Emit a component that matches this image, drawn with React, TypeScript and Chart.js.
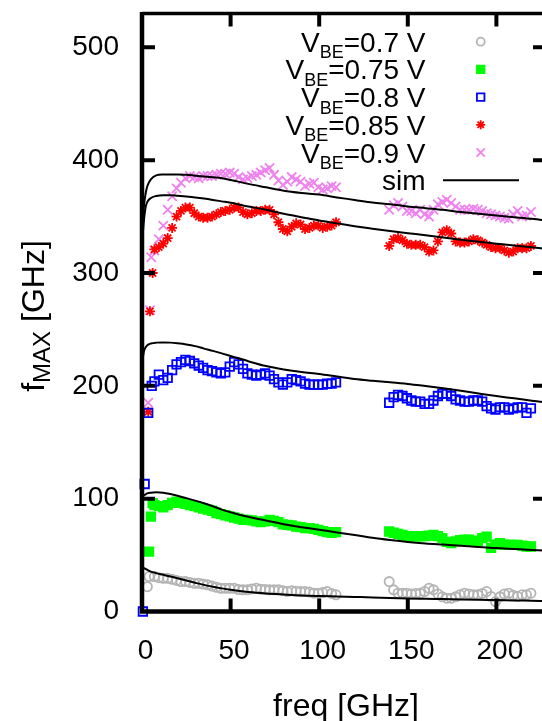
import React, { useEffect, useRef } from "react";
import { Chart, registerables } from "chart.js";

Chart.register(...registerables);

const FONT = "'Liberation Sans', Arial, Helvetica, sans-serif";

// x-axis frequencies (GHz)
const freqBand1 = [7, 9.5, 12, 14.5, 17, 19.5, 22, 24.5, 27, 29.5, 32, 34.5, 37, 39.5, 42, 44.5, 47, 49.5, 52, 54.5, 57, 59.5, 62, 64.5, 67, 69.5, 72, 74.5, 77, 79.5, 82, 84.5, 87, 89.5, 92, 94.5, 97, 99.5, 102, 104.5, 107, 109.5];
const freqBand2 = [139.5, 142, 144.5, 147, 149.5, 152, 154.5, 157, 159.5, 162, 164.5, 167, 169.5, 172, 174.5, 177, 179.5, 182, 184.5, 187, 189.5, 192, 194.5, 197, 199.5, 202, 204.5, 207, 209.5, 212, 214.5, 217, 219.5];
const simFreq = [0, 1, 2, 3, 5, 8, 12, 16, 20, 25, 30, 35, 40, 45, 50, 60, 70, 80, 90, 100, 110, 120, 130, 140, 150, 160, 170, 180, 190, 200, 210, 220, 230];

// VBE = 0.7 V
const grayEarlyF = [3, 4];
const grayEarlyV = [22, 31];
const grayBand1 = [31, 30, 29.4, 29.4, 28.5, 27.5, 26.5, 26.5, 25.8, 25, 25, 24.3, 23.6, 22.5, 21.5, 20.6, 20.6, 20.6, 20.6, 19.5, 19.2, 19.2, 20, 20.6, 19.8, 19.5, 19.2, 19.2, 19.2, 18.5, 17.7, 18.4, 18, 17.7, 17.7, 17.2, 16.2, 16.2, 16.8, 17.7, 16, 14.8];
const grayBand2 = [26.5, 19.2, 16.2, 16.2, 16.2, 15.5, 16, 16.2, 17.7, 20.6, 19.2, 15.5, 13, 11.8, 11.8, 13, 14.8, 16.2, 15.5, 14.8, 14.8, 16, 17.7, 13.3, 8.8, 13, 15.5, 16.2, 14.5, 13.3, 14.8, 14.8, 16.2];

// VBE = 0.75 V
const greenEarlyF = [4, 5, 6];
const greenEarlyV = [53, 84, 96];
const greenBand1 = [94.3, 93.3, 92.3, 94.3, 96.3, 97.3, 96.3, 95.3, 94.3, 93.3, 92.3, 91.3, 90.3, 89.3, 87.3, 86.3, 85.3, 84.3, 83.3, 82.3, 81.3, 81.3, 80.8, 79.8, 79.3, 79.8, 81.3, 80.3, 79.3, 77.3, 76.8, 76.3, 75.3, 74.8, 73.8, 73.8, 73.3, 72.3, 71.3, 70.3, 69.8, 70.3];
const greenBand2 = [70.9, 69.8, 68.8, 68, 66.8, 66.5, 66.5, 66.5, 66.8, 67.3, 68, 66.8, 65.1, 61.8, 60.6, 62.1, 63.3, 63.6, 63.6, 62.8, 62.3, 65.1, 66.3, 56.3, 59.3, 60.6, 59.3, 59.1, 59.1, 59.1, 58.3, 57.6, 57.6];

// VBE = 0.8 V
const blueEarlyF = [0.5, 1.5, 3.5, 5.5];
const blueEarlyV = [0, 113, 176, 200];
const blueBand1 = [204, 210, 205, 207, 214, 219, 221, 223, 222, 220, 218, 216, 214, 213, 212, 211, 212, 217, 221, 219, 215, 211, 210, 209, 210, 211, 209, 206, 203, 201, 203, 206, 205, 204, 202, 201, 201, 201, 201, 202, 202, 203];
const blueBand2 = [185, 190, 192, 191, 189, 187, 186, 186, 184, 184, 187, 191, 193, 193, 191, 188, 187, 186, 186, 187, 187, 186, 182, 180, 179, 181, 181, 179, 180, 181, 181, 176, 180];

// VBE = 0.85 V
const redEarlyF = [3.5, 4.5, 6];
const redEarlyV = [177, 266, 300];
const redBand1 = [321, 323, 326, 331, 340, 350, 355, 358, 358, 353, 350, 349, 349, 350, 352, 354, 355, 356, 358, 358, 354, 352, 353, 355, 355, 356, 356, 352, 345, 339, 337, 341, 344, 343, 339, 340, 342, 342, 340, 341, 342, 345];
const redBand2 = [324, 330, 331, 329, 326, 325, 325, 325, 323, 319, 320, 328, 336, 338, 335, 328, 327, 327, 328, 330, 329, 327, 325, 323, 322, 322, 320, 318, 319, 322, 322, 322, 324];

// VBE = 0.9 V
const pinkEarlyF = [3.5, 4.5, 5.2];
const pinkEarlyV = [185, 267, 314];
const pinkBand1 = [320, 330, 342, 356, 368, 375, 380, 384, 386, 385, 384, 386, 386, 386, 387, 388, 388, 389, 388, 385, 383, 384, 386, 387, 389, 391, 393, 387, 382, 378, 381, 385, 383, 381, 377, 379, 380, 376, 374, 375, 377, 376];
const pinkBand2 = [356, 360, 362, 359, 355, 355, 353, 356, 352, 350, 356, 361, 363, 365, 362, 359, 356, 356, 356, 357, 356, 355, 353, 352, 351, 350, 349, 348, 352, 355, 350, 351, 354];

// simulations
const sim07 = [40, 38.5, 37.8, 36.8, 35.3, 34, 32.5, 31, 29.5, 27.5, 25.5, 23.6, 22, 20.5, 19.2, 17.2, 15.9, 15, 14.2, 13.7, 13.3, 12.9, 12.5, 12, 11.6, 11.3, 11, 10.7, 10.4, 10.1, 9.8, 9.5, 9.2];
const sim075 = [101.3, 102.8, 103.8, 104.7, 105.3, 105.6, 105.3, 104.1, 102.6, 100.5, 98.3, 95.9, 93.3, 90.3, 88, 83.9, 80.6, 77.4, 74.7, 72.5, 70, 67.8, 65.3, 63.3, 61.6, 60.3, 59.3, 58.3, 57.1, 56.3, 55.4, 54.5, 53.8];
const sim08 = [219, 230, 234, 236, 237.5, 238.3, 238.5, 238.3, 237.7, 236.7, 235.2, 233, 231, 228.8, 226.5, 221.8, 217.5, 214.5, 212.2, 210.5, 208.2, 206, 204.5, 203.2, 201.7, 199.8, 197.8, 195.6, 193.2, 190.9, 188.9, 186.8, 185];
const sim085 = [325, 345, 358, 363, 366.5, 368.3, 369, 369, 368.5, 367.8, 367, 366, 364.8, 363.5, 362.2, 359, 356, 352.5, 349.5, 346.5, 344, 341.5, 339.3, 337.2, 335.3, 333.5, 331.5, 329.5, 327.7, 326, 324.3, 322.8, 321.3];
const sim09 = [335, 358, 370, 377, 383, 386.5, 387.3, 387.4, 387.3, 387, 386.3, 385.6, 384.8, 384, 382.5, 379, 376, 373, 371, 369.5, 367, 364.8, 362.5, 361, 359, 357.5, 356, 354, 352.5, 351, 349.5, 348, 346];

const xTicks = [0, 50, 100, 150, 200];
const yTicks = [0, 100, 200, 300, 400, 500];

const legendLabels = ["0.7", "0.75", "0.8", "0.85", "0.9"];

function pts(f: number[], v: number[]) {
  return f.map((x, i) => ({ x, y: v[i] }));
}

const series = [
  { label: legendLabels[0], f: [...grayEarlyF, ...freqBand1, ...freqBand2], v: [...grayEarlyV, ...grayBand1, ...grayBand2], style: "circle", color: "#b4b4b4", filled: false, radius: 4.6, legendRadius: 4 },
  { label: legendLabels[1], f: [...greenEarlyF, ...freqBand1, ...freqBand2], v: [...greenEarlyV, ...greenBand1, ...greenBand2], style: "rect", color: "#00ff00", filled: true, radius: 6, legendRadius: 5.3 },
  { label: legendLabels[2], f: [...blueEarlyF, ...freqBand1, ...freqBand2], v: [...blueEarlyV, ...blueBand1, ...blueBand2], style: "rect", color: "#0000ff", filled: false, radius: 6, legendRadius: 5.3 },
  { label: legendLabels[3], f: [...redEarlyF, ...freqBand1, ...freqBand2], v: [...redEarlyV, ...redBand1, ...redBand2], style: "star", color: "#ff0000", filled: false, radius: 5, legendRadius: 4.5 },
  { label: legendLabels[4], f: [...pinkEarlyF, ...freqBand1, ...freqBand2], v: [...pinkEarlyV, ...pinkBand1, ...pinkBand2], style: "crossRot", color: "#ee82ee", filled: false, radius: 6.5, legendRadius: 5.8 },
];

const sims = [sim07, sim075, sim08, sim085, sim09];

function drawMarker(ctx: CanvasRenderingContext2D, style: string, x: number, y: number, r: number, color: string, filled: boolean) {
  ctx.save();
  ctx.strokeStyle = color;
  ctx.fillStyle = color;
  ctx.lineWidth = 1.8;
  ctx.beginPath();
  if (style === "circle") {
    ctx.arc(x, y, r, 0, Math.PI * 2);
    if (filled) ctx.fill();
    ctx.stroke();
  } else if (style === "rect") {
    const s = Math.SQRT1_2 * r;
    ctx.rect(x - s, y - s, 2 * s, 2 * s);
    if (filled) ctx.fill();
    ctx.stroke();
  } else if (style === "star") {
    ctx.moveTo(x - r, y); ctx.lineTo(x + r, y);
    ctx.moveTo(x, y - r); ctx.lineTo(x, y + r);
    const d = Math.SQRT1_2 * r;
    ctx.moveTo(x - d, y - d); ctx.lineTo(x + d, y + d);
    ctx.moveTo(x - d, y + d); ctx.lineTo(x + d, y - d);
    ctx.stroke();
  } else if (style === "crossRot") {
    const d = Math.SQRT1_2 * r;
    ctx.moveTo(x - d, y - d); ctx.lineTo(x + d, y + d);
    ctx.moveTo(x - d, y + d); ctx.lineTo(x + d, y - d);
    ctx.stroke();
  }
  ctx.restore();
}

const framePlugin = {
  id: "frame",
  afterDatasetsDraw(chart: any) {
    const { ctx, chartArea } = chart;
    const { left, right, top, bottom } = chartArea;
    const xs = chart.scales.x;
    const ys = chart.scales.y;
    ctx.save();
    ctx.strokeStyle = "#000";
    ctx.lineCap = "butt";
    ctx.lineWidth = 3.5;
    ctx.beginPath();
    ctx.moveTo(left, top); ctx.lineTo(right, top); ctx.lineTo(right, bottom);
    ctx.stroke();
    ctx.lineWidth = 4.5;
    ctx.beginPath();
    ctx.moveTo(left, top - 1.5); ctx.lineTo(left, bottom); ctx.lineTo(right, bottom);
    ctx.stroke();
    const tl = 13;
    ctx.lineWidth = 4;
    ctx.beginPath();
    xs.ticks.forEach((t: any) => {
      if (t.value === 0) return;
      const px = xs.getPixelForValue(t.value);
      ctx.moveTo(px, bottom); ctx.lineTo(px, bottom - tl);
      ctx.moveTo(px, top); ctx.lineTo(px, top + tl);
    });
    ys.ticks.forEach((t: any) => {
      if (t.value === 0) return;
      const py = ys.getPixelForValue(t.value);
      ctx.moveTo(left, py); ctx.lineTo(left + tl, py);
      ctx.moveTo(right, py); ctx.lineTo(right - tl, py);
    });
    ctx.stroke();
    ctx.restore();
  },
  afterDraw(chart: any) {
    const { ctx } = chart;
    ctx.save();
    ctx.fillStyle = "#000";
    ctx.textBaseline = "alphabetic";
    const rightX = 425.5;
    const symX = 480.7;
    const row0 = 41.7;
    const step = 27.7;
    series.forEach((s, i) => {
      const ry = row0 + i * step;
      ctx.font = `28px ${FONT}`;
      const wV = ctx.measureText("V").width;
      const rest = `=${s.label} V`;
      const wRest = ctx.measureText(rest).width;
      ctx.font = `18px ${FONT}`;
      const wSub = ctx.measureText("BE").width;
      const start = rightX - (wV + wSub + wRest);
      ctx.textAlign = "left";
      ctx.font = `28px ${FONT}`;
      ctx.fillText("V", start, ry + 10);
      ctx.font = `18px ${FONT}`;
      ctx.fillText("BE", start + wV, ry + 16.5);
      ctx.font = `28px ${FONT}`;
      ctx.fillText(rest, start + wV + wSub, ry + 10);
      drawMarker(ctx, s.style, symX, ry, s.legendRadius, s.color, s.filled);
    });
    const simY = row0 + 5 * step;
    ctx.font = `28px ${FONT}`;
    ctx.textAlign = "right";
    ctx.fillText("sim", rightX, simY + 10);
    ctx.strokeStyle = "#000";
    ctx.lineWidth = 2;
    ctx.beginPath();
    ctx.moveTo(443, simY); ctx.lineTo(519, simY);
    ctx.stroke();

    ctx.font = `32px ${FONT}`;
    ctx.textAlign = "center";
    ctx.fillText("freq [GHz]", 346, 716);

    ctx.translate(43.5, 316);
    ctx.rotate(-Math.PI / 2);
    ctx.textAlign = "left";
    ctx.font = `32px ${FONT}`;
    const w1 = ctx.measureText("f").width;
    const w3 = ctx.measureText(" [GHz]").width;
    ctx.font = `24px ${FONT}`;
    const w2 = ctx.measureText("MAX").width;
    const st = -(w1 + w2 + w3) / 2;
    ctx.font = `32px ${FONT}`;
    ctx.fillText("f", st, 0);
    ctx.font = `24px ${FONT}`;
    ctx.fillText("MAX", st + w1, 6);
    ctx.font = `32px ${FONT}`;
    ctx.fillText(" [GHz]", st + w1 + w2, 0);
    ctx.restore();
  },
};

export default function App() {
  const ref = useRef<HTMLCanvasElement | null>(null);

  useEffect(() => {
    if (!ref.current) return;
    const simDatasets = sims.map((v) => ({
      type: "line" as const,
      data: pts(simFreq, v),
      borderColor: "#000",
      borderWidth: 2,
      pointRadius: 0,
      fill: false,
      showLine: true,
      cubicInterpolationMode: "monotone" as const,
      clip: false as any,
    }));
    const measDatasets = series.map((s) => ({
      type: "scatter" as const,
      data: pts(s.f, s.v),
      pointStyle: s.style as any,
      pointRadius: s.radius,
      pointBorderWidth: 1.8,
      pointBorderColor: s.color,
      pointBackgroundColor: s.filled ? s.color : "rgba(0,0,0,0)",
      borderColor: s.color,
      backgroundColor: s.filled ? s.color : "rgba(0,0,0,0)",
      showLine: false,
      clip: false as any,
    }));
    const chart = new Chart(ref.current, {
      type: "scatter",
      data: { datasets: [...simDatasets, ...measDatasets] as any },
      options: {
        animation: false,
        responsive: false,
        devicePixelRatio: 1,
        events: [],
        layout: { padding: { left: 0, top: 13.5, right: 14, bottom: 0 } },
        plugins: { legend: { display: false }, tooltip: { enabled: false } },
        scales: {
          x: {
            type: "linear",
            min: 0,
            max: 228,
            afterFit: (s: any) => { s.height = 109.5; s.paddingLeft = 0; s.paddingRight = 0; },
            afterBuildTicks: (s: any) => { s.ticks = xTicks.map((value) => ({ value })); },
            grid: { display: false, drawTicks: false, tickLength: 0 },
            border: { display: false },
            ticks: { padding: 23, labelOffset: 3.5, color: "#000", font: { family: FONT, size: 28 }, maxRotation: 0, autoSkip: false },
          },
          y: {
            type: "linear",
            min: 0,
            max: 530,
            afterFit: (s: any) => { s.width = 142; s.paddingTop = 0; s.paddingBottom = 0; },
            afterBuildTicks: (s: any) => { s.ticks = yTicks.map((value) => ({ value })); },
            grid: { display: false, drawTicks: false, tickLength: 0 },
            border: { display: false },
            ticks: { padding: 23, color: "#000", font: { family: FONT, size: 28 }, autoSkip: false },
          },
        },
      },
      plugins: [framePlugin],
    });
    return () => chart.destroy();
  }, []);

  return (
    <div style={{ position: "fixed", left: 0, top: 0, width: 542, height: 721, overflow: "hidden", background: "#fff" }}>
      <canvas ref={ref} width={560} height={721} style={{ display: "block", width: 560, height: 721 }} />
    </div>
  );
}
